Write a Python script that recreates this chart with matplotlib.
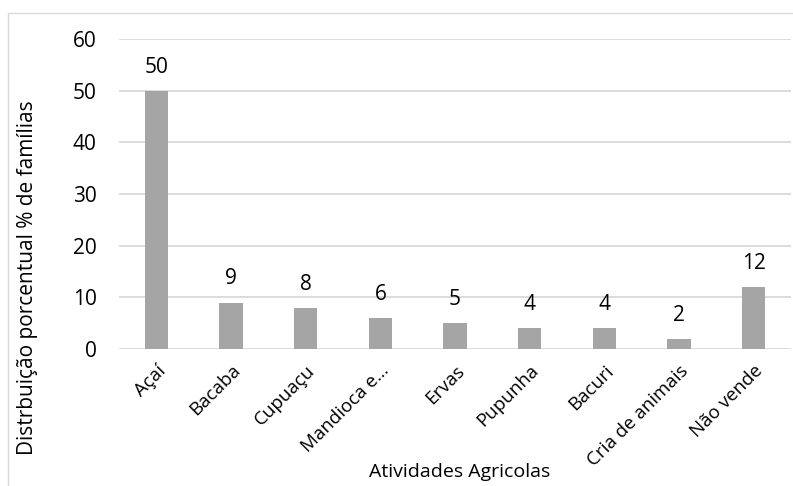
import matplotlib.pyplot as plt
from matplotlib.patches import Rectangle

# Dados: distribuição percentual das famílias por atividade
categorias = ["Açaí", "Bacaba", "Cupuaçu", "Mandioca e...", "Ervas",
              "Pupunha", "Bacuri", "Cria de animais", "Não vende"]
valores = [50, 9, 8, 6, 5, 4, 4, 2, 12]
yticks = [0, 10, 20, 30, 40, 50, 60]

plt.rcParams['font.family'] = ['Open Sans', 'DejaVu Sans']

W, H = 793, 486
fig = plt.figure(figsize=(W / 100, H / 100), dpi=100)
ax = fig.add_axes([119 / W, 1 - 349 / H, (791 - 119) / W, (349 - 39) / H])

x = range(len(categorias))
ax.bar(x, valores, width=0.31, color="#a5a5a5", zorder=3)
for xi, v in zip(x, valores):
    ax.annotate(str(v), (xi, v), xytext=(0, 13), textcoords="offset points",
                ha="center", va="baseline", fontsize=15, color="#000000",
                zorder=4)

ax.set_xlim(-0.5, len(categorias) - 0.5)
ax.set_ylim(0, 60)
ax.set_yticks(yticks)
ax.set_yticklabels([str(t) for t in yticks], fontsize=15)
ax.set_xticks(list(x))
ax.set_xticklabels(categorias, rotation=45, ha="right", rotation_mode="anchor",
                   fontsize=13.5)
ax.tick_params(axis="both", length=0)
ax.tick_params(axis="y", pad=16)
ax.tick_params(axis="x", pad=9)
ax.grid(axis="y", color="#d9d9d9", linewidth=1.3, zorder=0)
for s in ax.spines.values():
    s.set_visible(False)

fig.text(28 / W, 1 - 278 / H, "Distrbuição porcentual % de famílias",
         rotation=90, ha="center", va="center", fontsize=15)
fig.text(460 / W, 1 - 472 / H, "Atividades Agricolas",
         ha="center", va="center", fontsize=14)

# moldura do gráfico
fig.patches.append(Rectangle((8 / W, -0.1), 1.2, 1 - 13 / H + 0.1,
                             transform=fig.transFigure, fill=False,
                             edgecolor="#d9d9d9", linewidth=1))

fig.savefig("out.png", dpi=100)
